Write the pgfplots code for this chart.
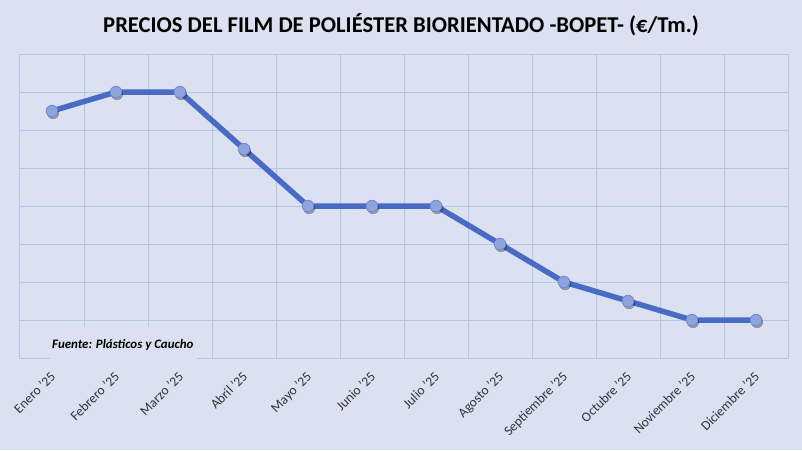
\documentclass[border=0pt]{standalone}
\usepackage{pgfplots}
\pgfplotsset{compat=1.18}
\usepackage{fontspec}
\setmainfont{Carlito}
\definecolor{bgc}{HTML}{DCE1F2}
\definecolor{gridc}{HTML}{B4C6EA}
\definecolor{linec}{HTML}{4A6BC4}
\definecolor{markc}{HTML}{8FA4DE}
\definecolor{markd}{HTML}{6F88CF}
\pgfplotstableread{
x y
0 6.5
1 7.0
2 7.0
3 5.5
4 4.0
5 4.0
6 4.0
7 3.0
8 2.0
9 1.5
10 1.0
11 1.0
}\prices
\begin{document}
\begin{tikzpicture}[x=1pt,y=1pt]
\fill[bgc] (0,0) rectangle (802,450);
\begin{axis}[
  at={(20pt,92pt)}, anchor=south west,
  scale only axis, width=768pt, height=304pt,
  xmin=-0.5, xmax=11.5, ymin=0, ymax=8,
  xtick={0,...,11},
  xticklabels={Enero '25,Febrero '25,Marzo '25,Abril '25,Mayo '25,Junio '25,Julio '25,Agosto '25,Septiembre '25,Octubre '25,Noviembre '25,Diciembre '25},
  minor xtick={-0.5,0.5,...,11.5},
  xminorgrids=true, xmajorgrids=false,
  ytick={0,...,8}, yticklabels={}, ymajorgrids=true,
  major tick length=0pt, minor tick length=0pt,
  grid style={gridc, line width=1pt},
  minor grid style={gridc, line width=1pt},
  axis line style={gridc, line width=1pt},
  xticklabel style={xshift=-2.5pt, yshift=-11pt, rotate=45, anchor=north east, font=\fontsize{13.5}{14}\selectfont, text=black!80, inner sep=1pt},
  clip=false,
]
\addplot[only marks, mark=*, mark size=5.8pt, forget plot,
  mark options={fill=black, draw=none, opacity=0.3, xshift=1pt, yshift=-2pt}]
  table[x=x,y=y] {\prices};
\addplot[linec, line width=5.5pt, mark=*, mark size=5.8pt,
  mark options={fill=markc, draw=markd, line width=0.8pt}]
  table[x=x,y=y] {\prices};
\fill[bgc] (axis cs:-0.03,-0.02) rectangle (axis cs:2.27,0.82);
\node[anchor=west, inner sep=0pt, font=\fontsize{12.9}{13}\selectfont\bfseries\itshape] at (axis cs:0,0.34) {Fuente: Plásticos y Caucho};
\end{axis}
\node[font=\fontsize{22.6}{24}\selectfont\bfseries] at (401,425) {PRECIOS DEL FILM DE POLIÉSTER BIORIENTADO -BOPET- (€/Tm.)};
\end{tikzpicture}
\end{document}
